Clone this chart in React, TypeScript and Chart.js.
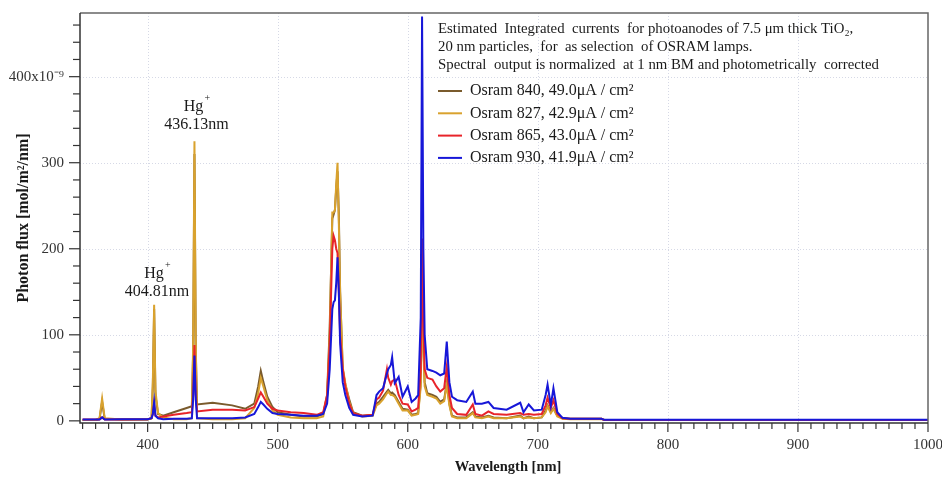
import React, { useEffect, useRef } from 'react';
import { Chart, registerables } from 'chart.js';

Chart.register(...registerables);

// ---------- data ----------
const wavelengths = [
  350, 360, 363, 365, 367, 380, 400, 403, 404, 405,
  406, 408, 412, 420, 430, 434, 435, 436, 437, 438,
  450, 465, 475, 482, 485, 487, 489, 492, 496, 500,
  510, 520, 530, 535, 538, 540, 542, 543, 544, 545,
  546, 547, 548, 550, 552, 555, 558, 565, 573, 576,
  578, 581, 584, 585, 587, 588, 590, 593, 596, 600,
  603, 606, 608, 610, 611, 612, 613, 615, 619, 622,
  625, 628, 630, 632, 634, 638, 645, 650, 652, 657,
  662, 666, 676, 686.5, 689, 693, 697, 703, 706, 707.5,
  710, 712, 715, 719, 725, 749, 751, 800, 900, 1000,
];

const osram840 = [
  1, 1, 2, 22, 2, 1.5, 1.5, 3, 40, 130,
  30, 8, 6, 10, 15, 17, 80, 310, 80, 19,
  21, 18, 14, 20, 40, 58, 45, 28, 16, 10,
  7, 5, 5, 8, 30, 110, 235, 240, 245, 270,
  290, 240, 150, 60, 42, 25, 10, 6, 7, 20,
  22, 28, 34, 36, 32, 33, 30, 22, 14, 13,
  7, 8, 9, 45, 185, 90, 45, 32, 30, 28,
  22, 25, 44, 20, 6, 4, 4, 10, 5, 4,
  6, 4, 3, 6, 3, 5, 3, 4, 12, 18,
  10, 15, 6, 3, 2.5, 2.5, 1, 1, 1, 1,
];

const osram827 = [
  1, 1, 3, 26, 3, 1.5, 1.5, 3, 45, 135,
  35, 9, 4, 2, 2, 3, 90, 325, 90, 3,
  2, 2, 3, 15, 32, 50, 40, 24, 12, 7,
  4, 3, 3, 5, 28, 100, 242, 242, 245, 275,
  300, 230, 150, 62, 44, 22, 9, 5, 6, 18,
  20, 25, 32, 34, 30, 30, 28, 20, 12, 12,
  6, 7, 8, 40, 170, 80, 40, 30, 28, 26,
  20, 23, 42, 18, 5, 3, 3, 9, 4, 3,
  5, 3, 3, 5, 3, 4, 3, 4, 10, 17,
  9, 14, 5, 2.5, 2, 2, 1, 1, 1, 1,
];

const osram865 = [
  1.5, 1.5, 1.5, 4, 1.5, 1.5, 2, 3, 8, 20,
  6, 4, 5, 7, 9, 10, 30, 88, 30, 11,
  13, 13, 12, 16, 26, 33, 28, 20, 14, 12,
  10, 9, 7, 10, 30, 90, 200, 215, 210, 200,
  195, 150, 100, 60, 40, 20, 9, 6, 7, 25,
  27, 35, 60, 50, 42, 46, 48, 30, 20, 19,
  11, 13, 15, 60, 212, 110, 60, 50, 48, 40,
  34, 38, 63, 30, 15, 8, 7, 19, 8, 6,
  11, 8, 7, 9, 7, 8, 7, 8, 18, 27,
  15, 24, 8, 3, 2.5, 2.5, 1, 1, 1, 1,
];

const osram930 = [
  1.5, 1.5, 1.5, 4, 1.5, 2, 2, 3, 8, 22,
  6, 3, 2, 2.5, 2.5, 3, 25, 76, 25, 3,
  3, 3, 4, 8, 16, 22, 19, 14, 9, 8,
  7, 6, 6, 8, 20, 60, 130, 138, 140, 160,
  190, 150, 90, 45, 30, 15, 7, 5, 6, 30,
  34, 38, 55, 60, 65, 74, 44, 51, 28, 40,
  22, 26, 30, 120, 470, 200, 100, 60, 58, 56,
  53, 55, 92, 45, 28, 24, 22, 34, 20, 20,
  22, 15, 13, 21, 10, 19, 12, 13, 30, 42,
  18, 38, 10, 3.5, 2.5, 2.3, 1.2, 1.2, 1.2, 1.2,
];

const seriesLabels = [
  'Osram 840, 49.0\u03BCA / cm\u00B2',
  'Osram 827, 42.9\u03BCA / cm\u00B2',
  'Osram 865, 43.0\u03BCA / cm\u00B2',
  'Osram 930, 41.9\u03BCA / cm\u00B2',
];
const seriesColors = ['#7a5b2d', '#d9a22e', '#e8242a', '#1717d8'];
const seriesValues = [osram840, osram827, osram865, osram930];

const headerLines = [
  'Estimated  Integrated  currents  for photoanodes of 7.5 \u03BCm thick TiO\u2082,',
  '20 nm particles,  for  as selection  of OSRAM lamps.',
  'Spectral  output is normalized  at 1 nm BM and photometrically  corrected',
];

const xMajorTicks = [400, 500, 600, 700, 800, 900, 1000];
const yMajorTicks = [0, 100, 200, 300, 400];
const xRange = [348, 1000];
const yRange = [-2.5, 474];

const peakLabels = [
  { ion: 'Hg', line: '436.13nm', x: 437.6, y: 344 },
  { ion: 'Hg', line: '404.81nm', x: 407.2, y: 150 },
];

const SERIF = "'Liberation Serif', 'Times New Roman', serif";

const decorPlugin = {
  id: 'decor',
  beforeDatasetsDraw(chart: any) {
    const { ctx, chartArea: a, scales } = chart;
    const x = scales.x;
    const y = scales.y;
    ctx.save();
    ctx.strokeStyle = '#d6d9e6';
    ctx.lineWidth = 1;
    ctx.setLineDash([1, 2]);
    for (const v of xMajorTicks) {
      if (v >= x.max) continue;
      const px = Math.round(x.getPixelForValue(v)) + 0.5;
      ctx.beginPath();
      ctx.moveTo(px, a.top);
      ctx.lineTo(px, a.bottom);
      ctx.stroke();
    }
    for (const v of yMajorTicks) {
      if (v === 0) continue;
      const py = Math.round(y.getPixelForValue(v)) + 0.5;
      ctx.beginPath();
      ctx.moveTo(a.left, py);
      ctx.lineTo(a.right, py);
      ctx.stroke();
    }
    ctx.restore();
  },
  afterDraw(chart: any) {
    const { ctx, chartArea: a, scales } = chart;
    const x = scales.x;
    const y = scales.y;
    ctx.save();
    // frame
    ctx.strokeStyle = '#666';
    ctx.lineWidth = 1.5;
    ctx.beginPath();
    ctx.moveTo(a.left, a.top);
    ctx.lineTo(a.right, a.top);
    ctx.lineTo(a.right, a.bottom);
    ctx.stroke();
    ctx.strokeStyle = '#333';
    ctx.beginPath();
    ctx.moveTo(a.left, a.top);
    ctx.lineTo(a.left, a.bottom);
    ctx.lineTo(a.right, a.bottom);
    ctx.stroke();
    // ticks
    ctx.lineWidth = 1.2;
    for (let v = 350; v <= 1000; v += 10) {
      const px = x.getPixelForValue(v);
      const len = v % 100 === 0 ? 9 : 6;
      ctx.beginPath();
      ctx.moveTo(px, a.bottom);
      ctx.lineTo(px, a.bottom + len);
      ctx.stroke();
    }
    for (let v = 0; v <= 460; v += 20) {
      const py = y.getPixelForValue(v);
      const len = v % 100 === 0 ? 11 : 7;
      ctx.beginPath();
      ctx.moveTo(a.left, py);
      ctx.lineTo(a.left - len, py);
      ctx.stroke();
    }
    // axis titles
    ctx.fillStyle = '#1a1a1a';
    ctx.textAlign = 'center';
    ctx.textBaseline = 'middle';
    ctx.font = `bold 14.5px ${SERIF}`;
    ctx.fillText('Wavelength [nm]', (a.left + a.right) / 2 + 4, 467);
    ctx.save();
    ctx.translate(24, 218);
    ctx.rotate(-Math.PI / 2);
    ctx.font = `bold 16px ${SERIF}`;
    ctx.fillText('Photon flux [mol/m\u00B2/nm]', 0, 0);
    ctx.restore();
    // peak labels
    for (const p of peakLabels) {
      const cx = x.getPixelForValue(p.x);
      const cy = y.getPixelForValue(p.y);
      ctx.font = `16px ${SERIF}`;
      ctx.textAlign = 'center';
      ctx.fillText(p.line, cx, cy);
      ctx.fillText(p.ion, cx - 3, cy - 18);
      const w = ctx.measureText(p.ion).width;
      ctx.font = `10px ${SERIF}`;
      ctx.fillText('+', cx - 3 + w / 2 + 4, cy - 26);
    }
    // header text
    ctx.textAlign = 'left';
    ctx.font = `14.8px ${SERIF}`;
    const lx = a.left + 358;
    headerLines.forEach((t, i) => {
      ctx.fillText(t, lx, a.top + 16 + i * 18);
    });
    // legend
    chart.data.datasets.forEach((ds: any, i: number) => {
      const ly = a.top + 78 + i * 22.3;
      ctx.strokeStyle = ds.borderColor;
      ctx.lineWidth = 2;
      ctx.beginPath();
      ctx.moveTo(lx, ly);
      ctx.lineTo(lx + 24, ly);
      ctx.stroke();
      ctx.fillStyle = '#1a1a1a';
      ctx.font = `16px ${SERIF}`;
      ctx.fillText(ds.label, lx + 32, ly);
    });
    ctx.restore();
  },
};

export default function App() {
  const ref = useRef<HTMLCanvasElement | null>(null);
  useEffect(() => {
    document.body.style.margin = '0';
    if (!ref.current) return;
    const orders = [3, 2, 1, 0];
    const chart = new Chart(ref.current, {
      type: 'line',
      data: {
        datasets: seriesValues.map((vals, i) => ({
          label: seriesLabels[i],
          data: wavelengths.map((w, j) => ({ x: w, y: vals[j] })),
          borderColor: seriesColors[i],
          backgroundColor: seriesColors[i],
          borderWidth: 2,
          pointRadius: 0,
          tension: 0,
          fill: false,
          order: orders[i],
        })),
      },
      options: {
        animation: false,
        responsive: false,
        devicePixelRatio: 1,
        layout: { padding: { top: 13, right: 14, left: 0, bottom: 0 } },
        plugins: { legend: { display: false }, tooltip: { enabled: false } },
        scales: {
          x: {
            type: 'linear',
            min: xRange[0],
            max: xRange[1],
            grid: { display: false, drawTicks: false },
            border: { display: false },
            ticks: {
              stepSize: 10,
              includeBounds: false,
              autoSkip: false,
              maxRotation: 0,
              padding: 13,
              color: '#333',
              font: { family: SERIF, size: 15 },
              callback: (v: any) => (Math.abs(Number(v) % 100) < 1e-6 ? String(Math.round(Number(v))) : ''),
            },
            afterFit: (s: any) => {
              s.height = 54;
              s.paddingLeft = 0;
              s.paddingRight = 0;
            },
          },
          y: {
            type: 'linear',
            min: yRange[0],
            max: yRange[1],
            grid: { display: false, drawTicks: false },
            border: { display: false },
            ticks: {
              stepSize: 20,
              includeBounds: false,
              autoSkip: false,
              padding: 16,
              color: '#333',
              font: { family: SERIF, size: 15 },
              callback: (v: any) => {
                const n = Number(v);
                if (Math.abs(n % 100) > 1e-6) return '';
                const r = Math.round(n);
                return r === 400 ? '400x10\u207B\u2079' : String(r);
              },
            },
            afterFit: (s: any) => {
              s.width = 80;
              s.paddingTop = 0;
              s.paddingBottom = 0;
            },
          },
        },
      },
      plugins: [decorPlugin],
    } as any);
    return () => chart.destroy();
  }, []);
  return (
    <div style={{ position: 'absolute', left: 0, top: 0, width: 942, height: 477, background: '#fff' }}>
      <canvas ref={ref} width={942} height={477} />
    </div>
  );
}
